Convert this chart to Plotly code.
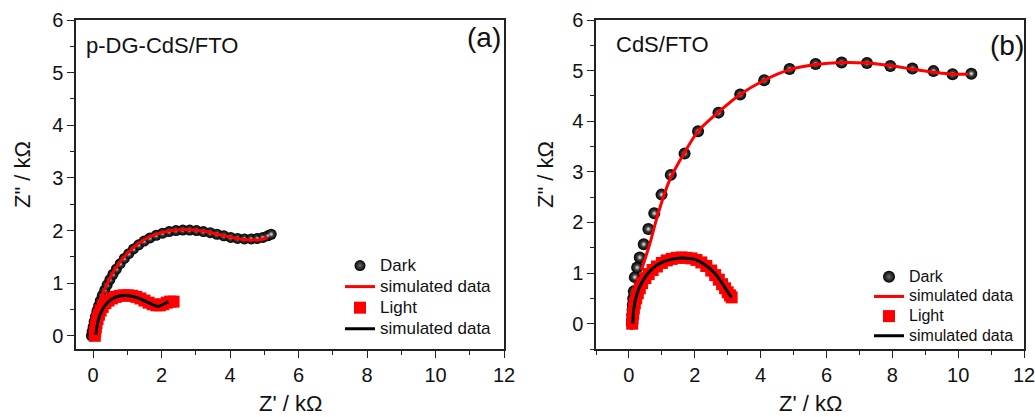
import plotly.graph_objects as go

# ---------------- (a) p-DG-CdS/FTO ----------------
a_dark_x = [-0.05, -0.03, 0.0, 0.03, 0.07, 0.11, 0.16, 0.21, 0.27, 0.34, 0.41, 0.49, 0.58, 0.68,
            0.79, 0.91, 1.04, 1.18, 1.33, 1.49, 1.66, 1.84, 2.03, 2.22, 2.42, 2.62, 2.82, 3.02,
            3.22, 3.42, 3.62, 3.82, 4.02, 4.22, 4.42, 4.62, 4.80, 4.96, 5.10, 5.20]
a_dark_y = [0.0, 0.08, 0.17, 0.27, 0.37, 0.47, 0.57, 0.67, 0.77, 0.87, 0.97, 1.07, 1.17, 1.27,
            1.37, 1.47, 1.56, 1.65, 1.73, 1.80, 1.86, 1.91, 1.95, 1.98, 2.00, 2.01, 2.01, 2.00,
            1.98, 1.96, 1.93, 1.90, 1.87, 1.85, 1.84, 1.84, 1.85, 1.87, 1.90, 1.93]

a_dark_fit_x = [0.0, 0.1, 0.25, 0.45, 0.7, 1.0, 1.35, 1.75, 2.2, 2.7, 3.2, 3.7, 4.2, 4.6, 4.9, 5.1]
a_dark_fit_y = [0.12, 0.42, 0.75, 1.05, 1.33, 1.57, 1.77, 1.91, 1.99, 2.02, 1.99, 1.92, 1.85, 1.82, 1.83, 1.87]

a_light_x = [0.05, 0.06, 0.08, 0.10, 0.13, 0.17, 0.22, 0.28, 0.36, 0.45, 0.55, 0.66, 0.78, 0.90,
             1.02, 1.14, 1.26, 1.38, 1.50, 1.62, 1.74, 1.85, 1.95, 2.05, 2.15, 2.25, 2.35]
a_light_y = [0.0, 0.08, 0.16, 0.24, 0.32, 0.40, 0.48, 0.55, 0.62, 0.67, 0.71, 0.74, 0.76, 0.77,
             0.77, 0.76, 0.74, 0.71, 0.67, 0.63, 0.60, 0.58, 0.58, 0.60, 0.63, 0.65, 0.65]

a_light_fit_x = [0.08, 0.12, 0.2, 0.35, 0.55, 0.8, 1.05, 1.3, 1.55, 1.75, 1.9, 2.05, 2.2]
a_light_fit_y = [0.02, 0.2, 0.4, 0.58, 0.7, 0.76, 0.76, 0.72, 0.65, 0.59, 0.56, 0.6, 0.65]

# ---------------- (b) CdS/FTO ----------------
b_dark_x = [0.09, 0.10, 0.10, 0.11, 0.12, 0.13, 0.15, 0.18, 0.25, 0.33, 0.45, 0.59, 0.77, 0.99,
            1.27, 1.69, 2.10, 2.72, 3.38, 4.11, 4.88, 5.67, 6.46, 7.23, 7.94, 8.61, 9.25, 9.83, 10.40]
b_dark_y = [0.0, 0.08, 0.17, 0.27, 0.38, 0.50, 0.64, 0.92, 1.11, 1.31, 1.57, 1.87, 2.18, 2.55,
            2.94, 3.36, 3.80, 4.17, 4.53, 4.81, 5.03, 5.13, 5.16, 5.15, 5.09, 5.04, 4.99, 4.93, 4.94]

b_dark_fit_x = [0.38, 0.63, 0.89, 1.24, 1.69, 2.10, 2.72, 3.38, 4.11, 4.88, 5.67, 6.46, 7.23,
                7.94, 8.61, 9.25, 9.83, 10.3]
b_dark_fit_y = [1.06, 1.57, 2.18, 2.84, 3.38, 3.80, 4.18, 4.53, 4.81, 5.02, 5.12, 5.16, 5.15,
                5.10, 5.03, 4.97, 4.93, 4.93]

b_light_x = [0.10, 0.11, 0.13, 0.15, 0.18, 0.22, 0.27, 0.33, 0.40, 0.50, 0.60, 0.72, 0.85, 1.00,
             1.15, 1.30, 1.45, 1.60, 1.75, 1.90, 2.05, 2.20, 2.35, 2.50, 2.62, 2.73, 2.83, 2.92,
             3.00, 3.07, 3.12]
b_light_y = [0.0, 0.10, 0.20, 0.30, 0.40, 0.50, 0.60, 0.70, 0.80, 0.90, 0.98, 1.06, 1.13, 1.20,
             1.25, 1.28, 1.30, 1.31, 1.30, 1.29, 1.26, 1.21, 1.14, 1.05, 0.96, 0.87, 0.78, 0.70,
             0.62, 0.56, 0.52]

b_light_fit_x = [0.12, 0.15, 0.25, 0.45, 0.7, 1.0, 1.35, 1.65, 2.0, 2.3, 2.6, 2.85, 3.05, 3.12]
b_light_fit_y = [0.0, 0.3, 0.6, 0.88, 1.08, 1.21, 1.28, 1.3, 1.27, 1.17, 1.0, 0.78, 0.58, 0.52]

x_ticks = [0, 2, 4, 6, 8, 10, 12]
y_ticks = [0, 1, 2, 3, 4, 5, 6]

FONT = "Liberation Sans, Arial, sans-serif"
RED = "#ff0000"
INK = "#111111"

fig = go.Figure()


def label(text, px):
    # legend rows are spaced by the (smaller) legend font; the text itself is drawn larger
    return f'<span style="font-size:{px}px">{text}</span>'


def add_panel(xa, ya, legend, fpx, dx, dy, fx, fy, lx, ly, fx2, fy2, ssize, qsize):
    # shaded black spheres: dark body plus a soft light highlight on top
    fig.add_trace(go.Scatter(x=dx, y=dy, mode="markers", name=label("Dark", fpx),
                             marker=dict(symbol="circle", size=ssize, color="#000000",
                                         gradient=dict(type="radial", color="#6a6a6a"),
                                         line=dict(width=0)),
                             xaxis=xa, yaxis=ya, legend=legend))
    fig.add_trace(go.Scatter(x=dx, y=dy, mode="markers", showlegend=False, hoverinfo="skip",
                             marker=dict(symbol="circle", size=ssize * 0.45,
                                         color="rgba(210,210,210,0)",
                                         gradient=dict(type="radial", color="#e6e6e6"),
                                         line=dict(width=0)),
                             xaxis=xa, yaxis=ya))
    fig.add_trace(go.Scatter(x=fx, y=fy, mode="lines", name=label("simulated data", fpx),
                             line=dict(color=RED, width=3, shape="spline"),
                             xaxis=xa, yaxis=ya, legend=legend))
    fig.add_trace(go.Scatter(x=lx, y=ly, mode="markers", name=label("Light", fpx),
                             marker=dict(symbol="square", size=qsize, color=RED, line=dict(width=0)),
                             xaxis=xa, yaxis=ya, legend=legend))
    fig.add_trace(go.Scatter(x=fx2, y=fy2, mode="lines", name=label("simulated data", fpx),
                             line=dict(color="#000000", width=3, shape="spline"),
                             xaxis=xa, yaxis=ya, legend=legend))


add_panel("x", "y", "legend", 17, a_dark_x, a_dark_y, a_dark_fit_x, a_dark_fit_y,
          a_light_x, a_light_y, a_light_fit_x, a_light_fit_y, 11, 12)
add_panel("x2", "y2", "legend2", 16, b_dark_x, b_dark_y, b_dark_fit_x, b_dark_fit_y,
          b_light_x, b_light_y, b_light_fit_x, b_light_fit_y, 12, 12)

W, H = 1035, 417
ax_common = dict(showgrid=False, zeroline=False, showline=True, mirror=True,
                 linecolor="#222222", linewidth=1.5, ticks="outside", ticklen=7,
                 tickwidth=1.3, tickcolor="#222222", automargin=False,
                 ticklabeloverflow="allow",
                 tickfont=dict(family=FONT, size=20, color=INK))
minor_x = dict(dtick=1, tick0=0, ticks="outside", ticklen=4, tickcolor="#222222")
minor_y = dict(dtick=0.5, tick0=0, ticks="outside", ticklen=4, tickcolor="#222222")

fig.update_layout(
    width=W, height=H,
    margin=dict(l=0, r=0, t=0, b=0, autoexpand=False),
    paper_bgcolor="white", plot_bgcolor="white",
    font=dict(family=FONT, color=INK),
    xaxis=dict(domain=[76 / W, 504 / W], range=[-0.5, 12], tickvals=x_ticks, minor=minor_x,
               anchor="y", **ax_common),
    yaxis=dict(domain=[(H - 349) / H, (H - 20) / H], range=[-0.25, 6], tickvals=y_ticks,
               minor=minor_y, anchor="x", **ax_common),
    xaxis2=dict(domain=[596 / W, 1024 / W], range=[-1, 12], tickvals=x_ticks, minor=minor_x,
                anchor="y2", **ax_common),
    yaxis2=dict(domain=[(H - 349) / H, (H - 20) / H], range=[-0.5, 6], tickvals=y_ticks,
                minor=minor_y, anchor="x2", **ax_common),
    legend=dict(x=340 / W, y=(H - 250) / H, xanchor="left", yanchor="top",
                bgcolor="rgba(0,0,0,0)", font=dict(family=FONT, size=13.9, color=INK),
                tracegroupgap=0, itemwidth=30),
    legend2=dict(x=869 / W, y=(H - 262) / H, xanchor="left", yanchor="top",
                 bgcolor="rgba(0,0,0,0)", font=dict(family=FONT, size=12.8, color=INK),
                 tracegroupgap=0, itemwidth=30),
    showlegend=True,
)

ann = [
    dict(text="p-DG-CdS/FTO", x=84, y=45, xanchor="left", size=22),
    dict(text="(a)", x=503, y=38, xanchor="right", size=28),
    dict(text="CdS/FTO", x=614, y=44, xanchor="left", size=22),
    dict(text="(b)", x=1026, y=45, xanchor="right", size=28),
    dict(text="Z' / kΩ", x=290, y=403, xanchor="center", size=22),
    dict(text="Z' / kΩ", x=810, y=403, xanchor="center", size=22),
]
for a in ann:
    fig.add_annotation(text=a["text"], xref="paper", yref="paper", x=a["x"] / W, y=1 - a["y"] / H,
                       xanchor=a["xanchor"], yanchor="middle", showarrow=False,
                       font=dict(family=FONT, size=a["size"], color=INK))
for xc in (22, 545):
    fig.add_annotation(text='Z" / kΩ', xref="paper", yref="paper", x=xc / W, y=1 - 175 / H,
                       xanchor="center", yanchor="middle", textangle=-90, showarrow=False,
                       font=dict(family=FONT, size=22, color=INK))

fig.write_html("out.html")
